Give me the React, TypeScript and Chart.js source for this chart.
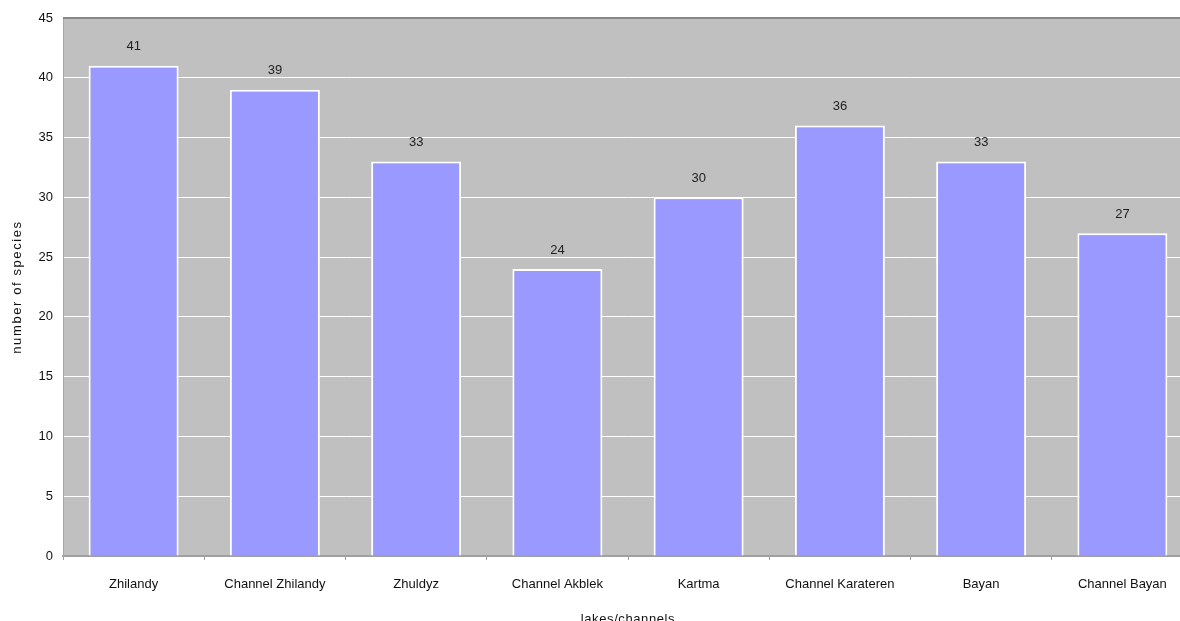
import React, { useEffect, useRef } from "react";
import { Chart, registerables } from "chart.js";

Chart.register(...registerables);

const categories = [
  "Zhilandy",
  "Channel Zhilandy",
  "Zhuldyz",
  "Channel Akblek",
  "Kartma",
  "Channel Karateren",
  "Bayan",
  "Channel Bayan",
];
const speciesCounts = [41, 39, 33, 24, 30, 36, 33, 27];
const yTicks = [0, 5, 10, 15, 20, 25, 30, 35, 40, 45];
const yTitle = "number of species";
const xTitle = "lakes/channels";

const FONT = "'Liberation Sans', Arial, sans-serif";

const plotBg = {
  id: "plotBg",
  beforeDraw(chart: any) {
    const { ctx, chartArea } = chart;
    ctx.save();
    ctx.fillStyle = "#c0c0c0";
    ctx.fillRect(chartArea.left, chartArea.top, chartArea.right - chartArea.left, chartArea.bottom - chartArea.top);
    ctx.restore();
  },
  afterDraw(chart: any) {
    const { ctx, chartArea } = chart;
    ctx.save();
    ctx.strokeStyle = "#888888";
    ctx.lineWidth = 2;
    ctx.beginPath();
    ctx.moveTo(chartArea.left, chartArea.top);
    ctx.lineTo(chartArea.right, chartArea.top);
    ctx.stroke();

    // axis titles with letter spacing
    ctx.fillStyle = "#111111";
    ctx.font = `13px ${FONT}`;
    ctx.textAlign = "center";
    (ctx as any).letterSpacing = "1.6px";
    ctx.save();
    ctx.translate(17, (chartArea.top + chartArea.bottom) / 2);
    ctx.rotate(-Math.PI / 2);
    ctx.textBaseline = "middle";
    ctx.fillText(yTitle, 0, 0);
    ctx.restore();
    (ctx as any).letterSpacing = "0.6px";
    ctx.textBaseline = "alphabetic";
    ctx.fillText(xTitle, (chartArea.left + chartArea.right) / 2, 623);
    ctx.restore();
  },
};

const valueLabels = {
  id: "valueLabels",
  afterDatasetsDraw(chart: any) {
    const { ctx } = chart;
    const meta = chart.getDatasetMeta(0);
    const data = chart.data.datasets[0].data;
    ctx.save();
    ctx.fillStyle = "#222222";
    ctx.font = `13px ${FONT}`;
    ctx.textAlign = "center";
    ctx.textBaseline = "middle";
    meta.data.forEach((el: any, i: number) => {
      ctx.fillText(String(data[i]), el.x, el.y - 19);
    });
    ctx.restore();
  },
};

export default function App() {
  const ref = useRef<HTMLCanvasElement>(null);
  useEffect(() => {
    if (!ref.current) return;
    const chart = new Chart(ref.current, {
      type: "bar",
      data: {
        labels: categories,
        datasets: [
          {
            data: speciesCounts,
            backgroundColor: "#9999ff",
            borderColor: "#ffffff",
            borderWidth: 2,
            categoryPercentage: 1,
            barPercentage: 0.637,
          },
        ],
      },
      plugins: [plotBg, valueLabels],
      options: {
        responsive: false,
        animation: false,
        devicePixelRatio: 1,
        layout: { padding: { top: 18, right: 2, left: 0, bottom: 0 } },
        plugins: {
          legend: { display: false },
          tooltip: { enabled: false },
        },
        scales: {
          x: {
            offset: true,
            grid: {
              offset: true,
              drawOnChartArea: false,
              color: "#a0a0a0",
              tickLength: 4,
            },
            border: { color: "#a0a0a0", width: 2 },
            ticks: {
              color: "#111111",
              font: { family: FONT, size: 13 },
              padding: 17,
              maxRotation: 0,
              autoSkip: false,
            },
            afterFit(scale: any) {
              scale.height = 74;
            },
          },
          y: {
            min: 0,
            max: 45,
            afterBuildTicks(scale: any) {
              scale.ticks = yTicks.map((v) => ({ value: v }));
            },
            grid: {
              color: "#ffffff",
              lineWidth: 1,
              tickLength: 0,
            },
            border: { color: "#a8a8a8", width: 1 },
            ticks: {
              color: "#111111",
              font: { family: FONT, size: 13 },
              padding: 10,
            },
            afterFit(scale: any) {
              scale.width = 63;
            },
          },
        },
      },
    } as any);
    return () => chart.destroy();
  }, []);
  return (
    <div
      style={{
        position: "absolute",
        left: 0,
        top: 0,
        width: 1180,
        height: 621,
        overflow: "hidden",
        background: "#ffffff",
      }}
    >
      <canvas ref={ref} width={1195} height={630} style={{ display: "block" }} />
    </div>
  );
}
